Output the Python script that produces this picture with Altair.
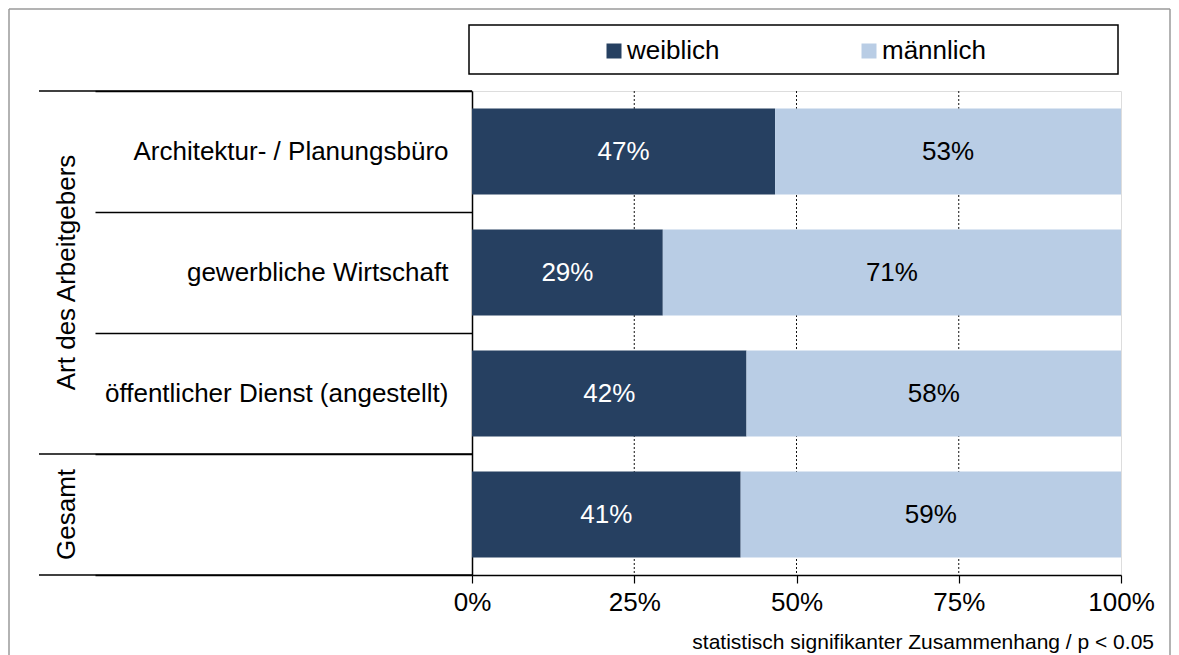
import altair as alt
import pandas as pd

categories = [
    "Architektur- / Planungsbüro",
    "gewerbliche Wirtschaft",
    "öffentlicher Dienst (angestellt)",
    "Gesamt",
]
weiblich = [46.7, 29.4, 42.3, 41.4]
maennlich = [53.3, 70.6, 57.7, 58.6]
weiblich_labels = ["47%", "29%", "42%", "41%"]
maennlich_labels = ["53%", "71%", "58%", "59%"]
series = ["weiblich", "männlich"]
series_colors = ["#264061", "#b9cde5"]
label_colors = ["#ffffff", "#000000"]
tick_values = [0, 25, 50, 75, 100]
grid_values = [25, 50, 75]
groups = ["Art des Arbeitgebers", "Gesamt"]
group_center_cats = ["gewerbliche Wirtschaft", "Gesamt"]
group_start_cats = ["Architektur- / Planungsbüro"]
group_end_cats = ["öffentlicher Dienst (angestellt)", "Gesamt"]
footnote = "statistisch signifikanter Zusammenhang / p < 0.05"

FONT = "Liberation Sans"
W, H = 649, 484

rows = []
for i, c in enumerate(categories):
    rows.append({"cat": c, "sex": series[0], "value": weiblich[i],
                 "label": weiblich_labels[i], "tc": label_colors[0], "ord": 0})
    rows.append({"cat": c, "sex": series[1], "value": maennlich[i],
                 "label": maennlich_labels[i], "tc": label_colors[1], "ord": 1})
df = pd.DataFrame(rows)

yscale = alt.Scale(domain=categories, paddingInner=0, paddingOuter=0)
xscale = alt.Scale(domain=[0, 100], nice=False)

x_axis = alt.Axis(
    values=tick_values, labelExpr="datum.value + '%'", title=None,
    grid=False, labelFontSize=26, labelColor="black", labelFont=FONT,
    tickSize=8, tickColor="black", tickWidth=1.2, domainColor="black",
    domainWidth=1.5, labelPadding=6, labelFlush=False)
y_axis = alt.Axis(
    title=None, grid=False, labelFontSize=26, labelColor="black",
    labelFont=FONT, labelLimit=500, tickBand="extent", tickSize=377,
    tickColor="black", tickWidth=1.5, domainColor="black", domainWidth=1.5,
    labelPadding=-353,
    labelExpr="datum.value == 'Gesamt' ? '' : datum.value")

one = pd.DataFrame({"k": [0]})

# outer frame (left, top, right)
frame_left = alt.Chart(one).mark_rule(color="#9a9a9a", strokeWidth=1.5).encode(
    x=alt.value(-463), y=alt.value(-82), y2=alt.value(575))
frame_top = alt.Chart(one).mark_rule(color="#9a9a9a", strokeWidth=1.5).encode(
    x=alt.value(-463), x2=alt.value(698), y=alt.value(-82))
frame_right = alt.Chart(one).mark_rule(color="#9a9a9a", strokeWidth=1.5).encode(
    x=alt.value(698), y=alt.value(-82), y2=alt.value(575))

# legend frame
legend_box = alt.Chart(one).mark_rect(fillOpacity=0, stroke="black", strokeWidth=1.5).encode(
    x=alt.value(-3), x2=alt.value(646), y=alt.value(-66), y2=alt.value(-17))

grid = alt.Chart(pd.DataFrame({"g": grid_values})).mark_rule(
    color="#111111", strokeDash=[2, 2], strokeWidth=1).encode(
    x=alt.X("g:Q", scale=xscale, axis=x_axis))

base = alt.Chart(df).transform_stack(
    stack="value", groupby=["cat"], as_=["v0", "v1"],
    sort=[alt.SortField("ord", order="ascending")],
).transform_calculate(mid="(datum.v0 + datum.v1) / 2")

bars = base.mark_bar(height={"band": 0.71}).encode(
    x=alt.X("v0:Q", scale=xscale, axis=x_axis),
    x2="v1:Q",
    y=alt.Y("cat:N", scale=yscale, axis=y_axis),
    color=alt.Color("sex:N", scale=alt.Scale(domain=series, range=series_colors),
                    legend=alt.Legend(
                        orient="none", legendX=129, legendY=-53,
                        direction="horizontal", columns=2, title=None,
                        labelFontSize=26, labelFont=FONT, labelColor="black",
                        symbolType="square", symbolSize=225, symbolStrokeWidth=0,
                        labelOffset=0, columnPadding=136, padding=0)),
)

bar_text = base.mark_text(fontSize=26, font=FONT, baseline="middle").encode(
    x=alt.X("mid:Q", scale=xscale, axis=x_axis),
    y=alt.Y("cat:N", scale=yscale, axis=y_axis),
    text="label:N",
    color=alt.Color("tc:N", scale=None),
)

starts = alt.Chart(pd.DataFrame({"cat": group_start_cats})).mark_rule(
    color="black", strokeWidth=1.5).encode(
    y=alt.Y("cat:N", scale=yscale, bandPosition=0, axis=y_axis),
    x=alt.value(-433), x2=alt.value(0))
ends = alt.Chart(pd.DataFrame({"cat": group_end_cats})).mark_rule(
    color="black", strokeWidth=1.5).encode(
    y=alt.Y("cat:N", scale=yscale, bandPosition=1, axis=y_axis),
    x=alt.value(-433), x2=alt.value(0))

group_text = alt.Chart(pd.DataFrame({"group": groups, "cat": group_center_cats})).mark_text(
    angle=270, fontSize=26, font=FONT, color="black", baseline="middle", align="center").encode(
    y=alt.Y("cat:N", scale=yscale, axis=y_axis),
    x=alt.value(-405),
    text="group:N")

foot = alt.Chart(pd.DataFrame({"t": [footnote]})).mark_text(
    fontSize=21, font=FONT, color="black", align="right", baseline="alphabetic").encode(
    x=alt.value(682), y=alt.value(558), text="t:N")

chart = alt.layer(
    frame_left, frame_top, frame_right, legend_box, grid, bars, bar_text,
    starts, ends, group_text, foot,
).properties(width=W, height=H, padding=0).configure_view(
    stroke="#8c8c8c", strokeWidth=1
).configure(font=FONT, background="white")

chart.save("out.html", embed_options={"renderer": "svg", "actions": False})
